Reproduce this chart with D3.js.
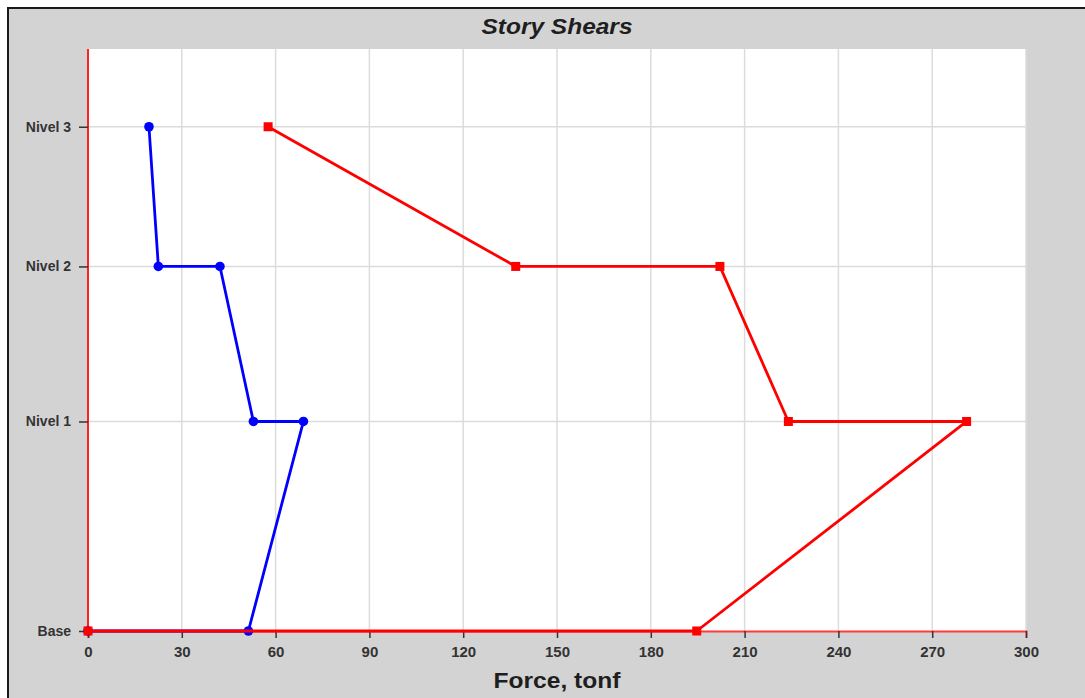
<!DOCTYPE html>
<html>
<head>
<meta charset="utf-8">
<script src="https://cdn.jsdelivr.net/npm/d3@7"></script>
<style>
  html, body { margin: 0; padding: 0; background: #fff; }
  svg { display: block; font-family: "Liberation Sans", Arial, sans-serif; }
</style>
</head>
<body>
<svg id="chart" width="1085" height="698"></svg>
<script>
// Story levels and their elevations (m)
const stories = ["Base", "Nivel 1", "Nivel 2", "Nivel 3"];
const elevations = [0, 4.5, 7.83, 10.83];
const elevationTop = 12.5;

// Points along each shear path, from top story down to the base
const pathStories = ["Nivel 3", "Nivel 2", "Nivel 2", "Nivel 1", "Nivel 1", "Base", "Base"];
const shearBlue = [19.5, 22.5, 42.2, 52.9, 68.9, 51.3, 0];
const shearRed = [57.6, 136.8, 202.1, 224.0, 281.0, 194.7, 0];

const xTicks = [0, 30, 60, 90, 120, 150, 180, 210, 240, 270, 300];
const titleText = "Story Shears";
const xTitle = "Force, tonf";

const svg = d3.select("#chart");
const W = 1085, H = 698;

// Figure frame
svg.append("rect").attr("x", 8).attr("y", 8).attr("width", W).attr("height", H)
  .attr("fill", "#d3d3d3").attr("stroke", "#1a1a1a").attr("stroke-width", 2);

const pLeft = 88, pRight = 1026, pTop = 49, pBottom = 631;

const x = d3.scaleLinear().domain([0, 300]).range([pLeft, pRight]);
const y = d3.scaleLinear().domain([0, elevationTop]).range([pBottom, pTop]);
const elevOf = s => elevations[stories.indexOf(s)];

// Plot panel
svg.append("rect").attr("x", pLeft).attr("y", pTop)
  .attr("width", pRight - pLeft).attr("height", pBottom - pTop).attr("fill", "#fff");

// Grid
const grid = svg.append("g").attr("stroke", "#dcdcdc").attr("stroke-width", 1.5);
grid.selectAll("line.v").data(xTicks.slice(1)).join("line").attr("class", "v")
  .attr("x1", d => x(d)).attr("x2", d => x(d)).attr("y1", pTop).attr("y2", pBottom);
grid.selectAll("line.h").data(elevations.slice(1)).join("line").attr("class", "h")
  .attr("x1", pLeft).attr("x2", pRight).attr("y1", d => y(d)).attr("y2", d => y(d));

// Axes
const xAxis = d3.axisBottom(x).tickValues(xTicks).tickSize(7).tickPadding(8);
const gx = svg.append("g").attr("transform", `translate(0,${pBottom})`).call(xAxis);
gx.select(".domain").attr("stroke", "#ff3a3a").attr("stroke-width", 1.8);
gx.selectAll(".tick line").attr("stroke", "#333").attr("stroke-width", 1.5);
gx.selectAll(".tick text").attr("fill", "#333").attr("font-size", 15).attr("font-weight", "bold")
  .attr("font-family", "Liberation Sans, Arial, sans-serif");

const yAxis = d3.axisLeft(y).tickValues(elevations)
  .tickFormat(d => stories[elevations.indexOf(d)]).tickSize(9).tickPadding(8);
const gy = svg.append("g").attr("transform", `translate(${pLeft},0)`).call(yAxis);
gy.select(".domain").attr("d", `M0,${pTop}V${pBottom}`).attr("stroke", "#ff2020").attr("stroke-width", 2);
gy.selectAll(".tick line").attr("stroke", "#333").attr("stroke-width", 1.5);
gy.selectAll(".tick text").attr("fill", "#333").attr("font-size", 14).attr("font-weight", "bold")
  .attr("font-family", "Liberation Sans, Arial, sans-serif");

// Shear lines
const line = d3.line().x(d => x(d[0])).y(d => y(elevOf(d[1])));
function series(values, color, marker) {
  const pts = values.map((v, i) => [v, pathStories[i]]);
  svg.append("path").datum(pts).attr("d", line)
    .attr("fill", "none").attr("stroke", color).attr("stroke-width", 2.8)
    .attr("stroke-linejoin", "round");
  const g = svg.append("g").attr("fill", color);
  if (marker === "circle") {
    g.selectAll("circle").data(pts).join("circle")
      .attr("cx", d => x(d[0])).attr("cy", d => y(elevOf(d[1]))).attr("r", 4.8);
  } else {
    g.selectAll("rect").data(pts).join("rect")
      .attr("x", d => x(d[0]) - 4.5).attr("y", d => y(elevOf(d[1])) - 4.5)
      .attr("width", 9).attr("height", 9);
  }
}
series(shearBlue, "#0000ff", "circle");
series(shearRed, "#ff0000", "square");

// Titles
svg.append("text").attr("x", (pLeft + pRight) / 2).attr("y", 34)
  .attr("text-anchor", "middle").attr("font-size", 22).attr("font-weight", "bold")
  .attr("font-style", "italic").attr("fill", "#1e1e1e")
  .attr("textLength", 151).attr("lengthAdjust", "spacingAndGlyphs").text(titleText);
svg.append("text").attr("x", (pLeft + pRight) / 2).attr("y", 688)
  .attr("text-anchor", "middle").attr("font-size", 22).attr("font-weight", "bold")
  .attr("fill", "#1e1e1e")
  .attr("textLength", 127).attr("lengthAdjust", "spacingAndGlyphs").text(xTitle);
</script>
</body>
</html>
